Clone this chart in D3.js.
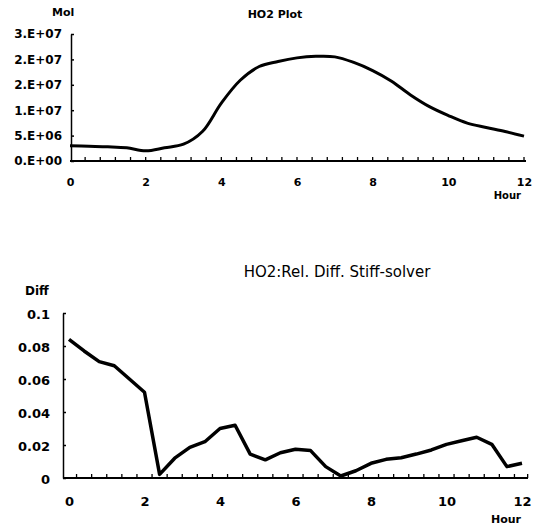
<!DOCTYPE html>
<html>
<head>
<meta charset="utf-8">
<script src="https://cdn.jsdelivr.net/npm/d3@7"></script>
<style>
  body { margin: 0; background: #fff; }
  svg { display: block; }
  text { fill: #000; }
</style>
</head>
<body>
<svg id="chart"></svg>
<script>
// top plot: HO2 concentration over the day
var plotHours = [0, 0.5, 1, 1.5, 2, 2.5, 3, 3.5, 4, 4.5, 5, 5.5, 6, 6.5, 7, 7.5, 8, 8.5, 9, 9.5, 10, 10.5, 11, 11.5, 12];
var plotMol = [3.0e6, 2.9e6, 2.8e6, 2.6e6, 2.0e6, 2.6e6, 3.3e6, 5.8e6, 11.4e6, 15.9e6, 18.6e6, 19.6e6, 20.3e6, 20.6e6,
               20.5e6, 19.4e6, 17.8e6, 15.7e6, 13.0e6, 10.7e6, 8.95e6, 7.45e6, 6.6e6, 5.8e6, 4.9e6];
var molTicks = [0, 5e6, 1e7, 1.5e7, 2e7, 2.5e7];

// bottom plot: relative difference vs stiff solver
var diffHours = [0, 0.4, 0.8, 1.2, 1.6, 2.0, 2.4, 2.8, 3.2, 3.6, 4.0, 4.4, 4.8, 5.2, 5.6, 6.0, 6.4, 6.8, 7.2, 7.6,
                 8.0, 8.4, 8.8, 9.2, 9.6, 10.0, 10.4, 10.8, 11.2, 11.6, 12.0];
var diffVals = [0.084, 0.077, 0.0705, 0.068, 0.060, 0.052, 0.0022, 0.012, 0.0186, 0.022, 0.030, 0.032, 0.0145, 0.011,
                0.0153, 0.0174, 0.0166, 0.0069, 0.0012, 0.0044, 0.0089, 0.0113, 0.0123, 0.0145, 0.017, 0.0204,
                0.0226, 0.0247, 0.0204, 0.0069, 0.0089];
var diffTicks = [0, 0.02, 0.04, 0.06, 0.08, 0.1];
var hourTicks = [0, 2, 4, 6, 8, 10, 12];

var svg = d3.select("#chart").attr("width", 535).attr("height", 525);

var expFormat = function(d) {
    if (d === 0) return "0.E+00";
    var e = Math.floor(Math.log10(d));
    var m = Math.round(d / Math.pow(10, e));
    return m + ".E+" + (e < 10 ? "0" : "") + e;
};

var minorTicks = function(start) {
    var out = [];
    for (var t = start; t < 12.01; t += 0.4) out.push(+t.toFixed(2));
    return out;
};

// ---------- top chart ----------
var xTop = d3.scaleLinear().domain([0, 12]).range([70, 524]);
var yTop = d3.scaleLinear().domain([0, 2.5e7]).range([161, 34]);

var gTop = svg.append("g");

gTop.append("g")
    .attr("transform", "translate(0,161)")
    .call(d3.axisBottom(xTop).tickValues(hourTicks).tickSize(0).tickPadding(17))
    .call(function(g) {
        g.select(".domain").attr("d", "M70,0H526").attr("stroke-width", 2);
        g.selectAll("text").attr("font-family", "DejaVu Sans").attr("font-weight", "bold").attr("font-size", 11);
    });

gTop.selectAll(".minorTop")
    .data(minorTicks(0.4))
    .enter().append("line")
    .attr("x1", function(d) { return xTop(d); })
    .attr("x2", function(d) { return xTop(d); })
    .attr("y1", 161).attr("y2", 157)
    .attr("stroke", "#000").attr("stroke-width", 1.3);

gTop.append("g")
    .attr("transform", "translate(71,0)")
    .call(d3.axisLeft(yTop).tickValues(molTicks).tickFormat(expFormat).tickSizeInner(-3).tickSizeOuter(0).tickPadding(9))
    .call(function(g) {
        g.select(".domain").attr("stroke-width", 1.5);
        g.selectAll("line").attr("stroke-width", 1.5);
        g.selectAll("text").attr("font-family", "DejaVu Sans").attr("font-weight", "bold").attr("font-size", 12);
    });

var lineTop = d3.line()
    .x(function(d, i) { return xTop(plotHours[i]); })
    .y(function(d) { return yTop(d); })
    .curve(d3.curveCatmullRom.alpha(0.5));

gTop.append("path")
    .datum(plotMol)
    .attr("d", lineTop)
    .attr("fill", "none")
    .attr("stroke", "#000")
    .attr("stroke-width", 3);

gTop.append("text").attr("x", 275).attr("y", 18).attr("text-anchor", "middle")
    .attr("font-family", "DejaVu Sans").attr("font-weight", "bold").attr("font-size", 11).text("HO2 Plot");
gTop.append("text").attr("x", 52).attr("y", 16)
    .attr("font-family", "DejaVu Sans").attr("font-weight", "bold").attr("font-size", 11).text("Mol");
gTop.append("text").attr("x", 521).attr("y", 199).attr("text-anchor", "end")
    .attr("font-family", "DejaVu Sans").attr("font-weight", "bold").attr("font-size", 10).text("Hour");

// ---------- bottom chart ----------
var xBot = d3.scaleLinear().domain([0, 12]).range([69, 522]);
var yBot = d3.scaleLinear().domain([0, 0.1]).range([478, 313]);

var gBot = svg.append("g");

gBot.append("g")
    .attr("transform", "translate(0,478)")
    .call(d3.axisBottom(xBot).tickValues(hourTicks).tickSize(0).tickPadding(19))
    .call(function(g) {
        g.select(".domain").attr("d", "M63,0H528").attr("stroke-width", 2);
        g.selectAll("text").attr("font-family", "DejaVu Sans").attr("font-weight", "bold").attr("font-size", 13);
    });

gBot.selectAll(".minorBot")
    .data(minorTicks(0.2).concat([12.15]))
    .enter().append("line")
    .attr("x1", function(d) { return xBot(d); })
    .attr("x2", function(d) { return xBot(d); })
    .attr("y1", 478).attr("y2", 474)
    .attr("stroke", "#000").attr("stroke-width", 1.3);

gBot.append("g")
    .attr("transform", "translate(63,0)")
    .call(d3.axisLeft(yBot).tickValues(diffTicks).tickFormat(d3.format("")).tickSizeInner(-3).tickSizeOuter(0).tickPadding(13))
    .call(function(g) {
        g.select(".domain").attr("stroke-width", 1.5);
        g.selectAll("line").attr("stroke-width", 1.5);
        g.selectAll("text").attr("font-family", "DejaVu Sans").attr("font-weight", "bold").attr("font-size", 13)
            .attr("dy", "0.45em");
    });

var lineBot = d3.line()
    .x(function(d, i) { return xBot(diffHours[i]); })
    .y(function(d) { return yBot(d); });

gBot.append("path")
    .datum(diffVals)
    .attr("d", lineBot)
    .attr("fill", "none")
    .attr("stroke", "#000")
    .attr("stroke-width", 3.5)
    .attr("stroke-linejoin", "round");

gBot.append("text").attr("x", 337).attr("y", 277).attr("text-anchor", "middle")
    .attr("font-family", "DejaVu Sans").attr("font-size", 15).text("HO2:Rel. Diff. Stiff-solver");
gBot.append("text").attr("x", 25).attr("y", 295)
    .attr("font-family", "DejaVu Sans").attr("font-weight", "bold").attr("font-size", 12).text("Diff");
gBot.append("text").attr("x", 521).attr("y", 523).attr("text-anchor", "end")
    .attr("font-family", "DejaVu Sans").attr("font-weight", "bold").attr("font-size", 11).text("Hour");
</script>
</body>
</html>
